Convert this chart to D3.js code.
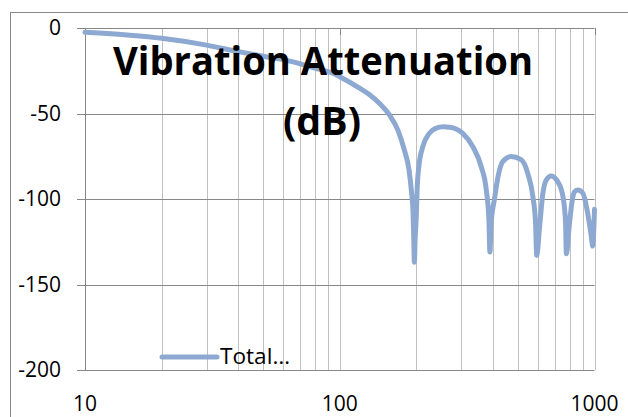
<!DOCTYPE html>
<html>
<head>
<meta charset="utf-8">
<script src="https://cdn.jsdelivr.net/npm/d3@7"></script>
<style>
  html, body { margin: 0; padding: 0; background: #fff; }
  svg { display: block; }
</style>
</head>
<body>
<svg id="chart" width="628" height="417"></svg>
<script>
// ---- data ----
const frequencies = [10, 15, 20, 30, 40, 50, 65, 80, 94, 100, 120, 131, 143, 157, 169, 179, 187, 191, 194, 195.3, 196.3, 197.6, 200, 201.2, 204.4, 211.8, 224.6, 238, 255, 270, 304, 333, 359, 376, 385, 388.5, 393, 405, 418, 437, 470, 515, 547, 573, 587, 593, 609, 627, 646, 676, 718, 752, 770, 775, 798, 818, 835, 861, 901, 934, 972, 984, 1000];
const attenuation = [-2.5, -4.2, -6, -10, -13.8, -16.5, -19.7, -23.5, -26.5, -28.5, -35.3, -39, -44, -51, -59.6, -71, -83, -95, -108, -124, -137, -124, -108, -95, -81, -69.4, -61.6, -58.7, -57.8, -58, -61.6, -69.4, -81, -94.7, -112, -131, -114, -100, -87, -78, -75.2, -77, -85, -98.6, -114, -133, -116, -96.7, -89, -86.5, -90, -98.6, -114, -132, -114, -100.6, -95.7, -94.7, -96.7, -106, -122, -127.5, -106];
const seriesName = "Total…";
const yTickValues = [0, -50, -100, -150, -200];
const xTickLabels = [10, 100, 1000];
const titleLines = ["Vibration Attenuation", "(dB)"];

// ---- layout ----
const svg = d3.select("#chart");
const plot = { left: 85, right: 594.5, top: 28, bottom: 370 };
const lineColor = "#8EA9D1";
const darkGrid = "#878787";
const lightGrid = "#C0C0C0";
const labelFont = "'Open Sans', 'DejaVu Sans', sans-serif";

const x = d3.scaleLog().domain([10, 1000]).range([plot.left, plot.right]);
const y = d3.scaleLinear().domain([0, -200]).range([plot.top, plot.bottom]);

// outer chart border
svg.append("rect")
  .attr("x", 10.5).attr("y", 12.5).attr("width", 700).attr("height", 500)
  .attr("fill", "none").attr("stroke", darkGrid).attr("stroke-width", 1);

// vertical (minor) gridlines
const crisp = v => Math.round(v) + 0.5;
const vTicks = x.ticks().filter(t => t > 10);
svg.append("g").selectAll("line").data(vTicks).join("line")
  .attr("x1", d => crisp(x(d))).attr("x2", d => crisp(x(d)))
  .attr("y1", plot.top).attr("y2", plot.bottom)
  .attr("stroke", lightGrid).attr("stroke-width", 1);

// horizontal gridlines with tick extension
svg.append("g").selectAll("line").data(yTickValues).join("line")
  .attr("x1", plot.left - 8).attr("x2", plot.right)
  .attr("y1", d => crisp(y(d))).attr("y2", d => crisp(y(d)))
  .attr("stroke", darkGrid).attr("stroke-width", 1);

// left axis line
svg.append("line")
  .attr("x1", crisp(plot.left)).attr("x2", crisp(plot.left))
  .attr("y1", plot.top).attr("y2", plot.bottom)
  .attr("stroke", darkGrid).attr("stroke-width", 1);

// major x tick marks hanging from the top (0) axis
svg.append("g").selectAll("line").data(xTickLabels).join("line")
  .attr("x1", d => crisp(x(d))).attr("x2", d => crisp(x(d)))
  .attr("y1", plot.top).attr("y2", plot.top + 7)
  .attr("stroke", darkGrid).attr("stroke-width", 1);

// y labels
svg.append("g").selectAll("text").data(yTickValues).join("text")
  .attr("x", 61).attr("y", d => y(d))
  .attr("dy", "0.35em")
  .attr("text-anchor", "end")
  .attr("font-family", labelFont).attr("font-size", 21)
  .attr("fill", "#000")
  .text(d => d);

// x labels
svg.append("g").selectAll("text").data(xTickLabels).join("text")
  .attr("x", d => x(d)).attr("y", 411)
  .attr("text-anchor", "middle")
  .attr("font-family", labelFont).attr("font-size", 21)
  .attr("fill", "#000")
  .text(d => d);

// series line
const points = frequencies.map((f, i) => [f, attenuation[i]]);
const line = d3.line()
  .x(d => x(d[0])).y(d => y(d[1]))
  .curve(d3.curveMonotoneX);
svg.append("path")
  .datum(points)
  .attr("d", line)
  .attr("fill", "none")
  .attr("stroke", lineColor)
  .attr("stroke-width", 5)
  .attr("stroke-linejoin", "round")
  .attr("stroke-linecap", "round");

// title (overlaid)
const title = svg.append("g")
  .attr("font-family", labelFont).attr("font-weight", "bold")
  .attr("font-size", 39).attr("fill", "#000").attr("text-anchor", "middle");
title.append("text").attr("x", 323).attr("y", 75)
  .attr("textLength", 420).attr("lengthAdjust", "spacingAndGlyphs")
  .text(titleLines[0]);
title.append("text").attr("x", 322).attr("y", 135)
  .attr("textLength", 78).attr("lengthAdjust", "spacingAndGlyphs")
  .text(titleLines[1]);

// legend
const legend = svg.append("g");
legend.append("line")
  .attr("x1", 162).attr("x2", 217).attr("y1", 357).attr("y2", 357)
  .attr("stroke", lineColor).attr("stroke-width", 5).attr("stroke-linecap", "round");
legend.append("text")
  .attr("x", 220).attr("y", 364)
  .attr("font-family", labelFont).attr("font-size", 21).attr("fill", "#000")
  .attr("textLength", 70).attr("lengthAdjust", "spacingAndGlyphs")
  .text(seriesName);
</script>
</body>
</html>
